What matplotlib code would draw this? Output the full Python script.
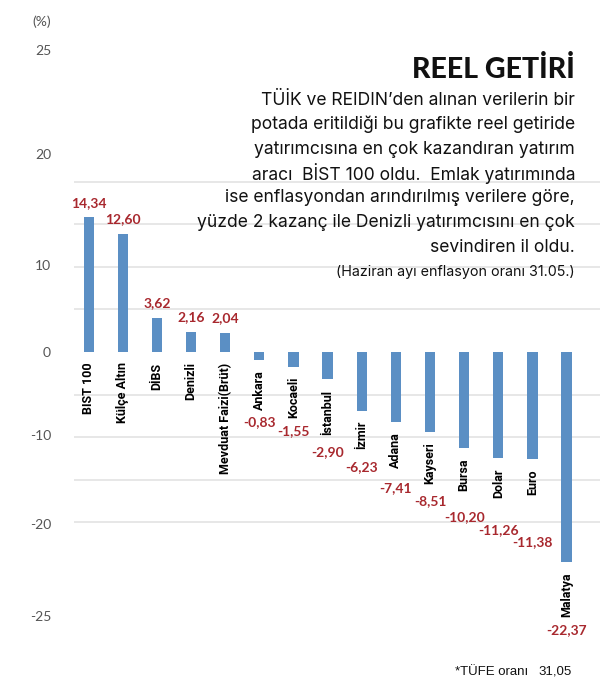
import numpy as np
import matplotlib.pyplot as plt

# --- data ---
categories = ['BIST 100', 'Külçe Altın', 'DİBS', 'Denizli', 'Mevduat Faizi(Brüt)',
              'Ankara', 'Kocaeli', 'İstanbul', 'İzmir', 'Adana', 'Kayseri',
              'Bursa', 'Dolar', 'Euro', 'Malatya']
values = [14.34, 12.60, 3.62, 2.16, 2.04, -0.83, -1.55, -2.90, -6.23, -7.41,
          -8.51, -10.20, -11.26, -11.38, -22.37]
tick_labels = ['25', '20', '10', '0', '-10', '-20', '-25']

title = 'REEL GETİRİ'
body_lines = [
    'TÜİK ve REIDIN’den alınan verilerin bir',
    'potada eritildiği bu grafikte reel getiride',
    'yatırımcısına en çok kazandıran yatırım',
    'aracı  BİST 100 oldu.  Emlak yatırımında',
    'ise enflasyondan arındırılmış verilere göre,',
    'yüzde 2 kazanç ile Denizli yatırımcısını en çok',
    'sevindiren il oldu.',
]
note = '(Haziran ayı enflasyon oranı 31.05.)'
footer_label = '*TÜFE oranı'
footer_value = '31,05'

BLUE = '#5b8fc4'
RED = '#a8282e'
GREY = '#555555'

W, H = 600, 691
Y0 = 352.0      # pixel row of the zero line
PPU = 9.4       # pixels per percent
TOP, BOT = 30, 660

# gap (px) between the end of a negative bar's name and the centre of its value,
# staggered as in the original so the crowded ones do not collide
neg_gap = [12, 13, 17, 18, 20, 17, 26, 32, 47, 13]

fig = plt.figure(figsize=(W / 100, H / 100), dpi=100)
ax = fig.add_axes([74 / W, (H - BOT) / H, (W - 74) / W, (BOT - TOP) / H])

x = np.arange(len(categories))
ax.bar(x, values, width=0.3, color=BLUE, zorder=2)

ax.set_xlim(-0.43, 14.98)
ax.set_ylim((Y0 - BOT) / PPU, (Y0 - TOP) / PPU)

# grid every 42.6 px, labels sit where the original put them (not on the grid)
grid_vals = [k * 42.6 / PPU for k in range(-4, 5)]
label_px = [50, 154, 265, 352, 435, 524, 616]
ax.set_yticks(grid_vals, minor=True)
ax.set_yticks([(Y0 - p) / PPU for p in label_px])
ax.set_yticklabels(tick_labels, fontsize=10, color=GREY, family='Lato')
ax.tick_params(axis='y', which='both', length=0, pad=16.5)
ax.tick_params(axis='x', length=0, labelbottom=False)
ax.grid(which='minor', axis='y', color='#e3e3e3', lw=1.2, zorder=0)
ax.grid(which='major', visible=False)
for s in ax.spines.values():
    s.set_visible(False)

cat_texts = []
for i, (c, v) in enumerate(zip(categories, values)):
    t = ax.annotate(c, xy=(i, min(v, 0)), xytext=(0, -7.5), textcoords='offset points',
                    rotation=90, ha='center', va='top', fontsize=9,
                    fontweight='bold', family='Roboto')
    cat_texts.append(t)
    if v > 0:
        ax.annotate(f'{v:.2f}'.replace('.', ','), xy=(i, v), xytext=(0, 10.5),
                    textcoords='offset points', ha='center', va='center',
                    fontsize=10, fontweight='bold', color=RED, family='Lato')

fig.canvas.draw()
r = fig.canvas.get_renderer()
neg_idx = [i for i, v in enumerate(values) if v < 0]
for gap, i in zip(neg_gap, neg_idx):
    bb = cat_texts[i].get_window_extent(r)
    ax.annotate(f'{values[i]:.2f}'.replace('.', ','), xy=(i, bb.y0 - gap),
                xycoords=('data', 'figure pixels'), ha='center', va='center',
                fontsize=10, fontweight='bold', color=RED, family='Lato')

fig.text(32 / W, 1 - 22 / H, '(%)', fontsize=10, color=GREY, family='Lato', va='center')

fig.text(575 / W, 1 - 70 / H, title, fontsize=20.5, fontweight='black', family='Lato',
         ha='right', va='center', color='#111111')
for k, line in enumerate(body_lines):
    fig.text(575 / W, 1 - (100 + 24.5 * k) / H, line, fontsize=12.6, family='Inter',
             ha='right', va='center', color='#111111')
fig.text(575 / W, 1 - 272 / H, note, fontsize=10.3, family='Inter', ha='right',
         va='center', color='#111111')

fig.text(528 / W, 1 - 672 / H, footer_label, fontsize=9.5, family='Liberation Sans',
         ha='right', va='center', color='#111111')
fig.text(572 / W, 1 - 672 / H, footer_value, fontsize=9.5, family='Liberation Sans',
         ha='right', va='center', color='#111111')

fig.savefig('out.png', dpi=100, facecolor='white')
